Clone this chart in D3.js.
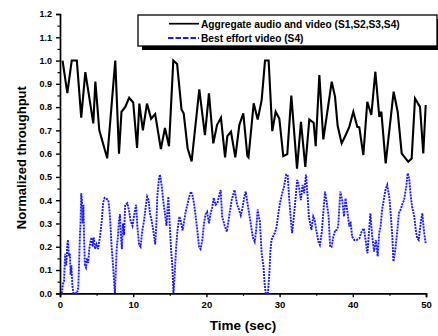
<!DOCTYPE html>
<html>
<head>
<meta charset="utf-8">
<script src="https://cdn.jsdelivr.net/npm/d3@7"></script>
<style>
  html, body { margin: 0; padding: 0; background: #fff; }
  svg { display: block; font-family: "Liberation Sans", Arial, sans-serif; }
</style>
</head>
<body>
<svg id="chart" width="438" height="336"></svg>
<script>
// ---- data ----
const seriesNames = ["Aggregate audio and video (S1,S2,S3,S4)", "Best effort video (S4)"];
const xTickValues = [0, 10, 20, 30, 40, 50];
const yTickValues = [0, 0.1, 0.2, 0.3, 0.4, 0.5, 0.6, 0.7, 0.8, 0.9, 1.0, 1.1, 1.2];

const aggTime = [0.35,1.0,1.6,2.3,2.9,3.46,4.55,4.83,5.37,6.45,7.55,8.06,8.4,8.9,9.45,10.0,10.53,10.84,11.32,11.88,12.45,13.0,13.78,14.34,14.89,15.48,16.0,16.6,16.9,17.44,17.98,19.03,19.8,20.35,20.94,21.45,21.99,22.55,22.86,23.36,23.95,24.5,25.04,25.6,25.75,26.46,27.01,27.55,28.01,28.5,29.0,29.46,29.96,30.5,31.05,31.6,32.38,32.92,33.51,34.06,34.65,34.93,35.43,35.97,37.12,37.57,37.93,38.48,39.03,39.52,40.07,40.61,40.89,41.44,41.98,42.53,43.08,43.62,43.9,44.49,45.58,46.13,46.68,47.23,47.58,48.04,48.5,49.18,49.63,49.96];
const aggValue = [1.0,0.86,1.0,1.0,0.755,0.95,0.73,0.91,0.70,0.58,1.0,0.60,0.78,0.80,0.84,0.82,0.625,0.815,0.70,0.815,0.75,0.77,0.62,0.71,0.632,1.0,0.985,0.79,0.772,0.622,0.567,0.876,0.68,0.859,0.644,0.723,0.754,0.584,0.675,0.694,0.584,0.723,0.773,0.59,0.584,0.816,0.747,0.83,1.0,1.0,0.697,0.78,0.751,0.589,0.598,0.849,0.536,0.737,0.543,0.747,0.733,0.632,0.938,0.661,0.909,0.845,0.72,0.644,0.68,0.715,0.78,0.715,0.713,0.594,0.823,0.766,0.952,0.758,0.78,0.558,0.866,0.78,0.601,0.579,0.565,0.579,0.837,0.801,0.601,0.809];

const beTime = [0.25,0.4,0.55,0.7,0.85,1.0,1.1,1.2,1.35,1.45,1.55,1.7,1.85,2.35,2.5,2.6,2.7,2.8,2.9,3.0,3.1,3.2,3.3,3.4,3.55,3.7,3.85,4.0,4.15,4.3,4.45,4.6,4.8,5.0,5.2,5.45,5.7,5.9,6.1,6.4,6.6,6.75,6.9,7.05,7.2,7.35,7.5,7.6,7.74,7.9,8.05,8.2,8.3,8.45,8.6,8.75,8.9,9.2,9.4,9.65,9.9,10.15,10.4,10.56,10.8,11.0,11.25,11.5,11.7,11.9,12.1,12.3,12.5,12.75,13.0,13.15,13.3,13.5,13.66,13.9,14.1,14.34,14.55,14.8,15.0,15.17,15.35,15.5,15.65,15.85,16.05,16.3,16.5,16.75,16.95,17.17,17.4,17.65,17.9,18.1,18.3,18.5,18.76,19.0,19.2,19.45,19.67,19.9,20.1,20.35,20.55,20.8,21.0,21.25,21.5,21.7,21.95,22.15,22.5,22.8,23.1,23.45,23.85,24.2,24.45,24.7,24.95,25.15,25.37,25.6,25.85,26.1,26.35,26.6,26.8,27.0,27.15,27.3,27.55,27.8,27.95,28.1,28.4,28.6,28.75,28.9,29.1,29.35,29.6,29.8,30.05,30.3,30.6,30.9,31.1,31.3,31.5,31.7,31.95,32.2,32.4,32.65,32.9,33.15,33.35,33.6,33.8,34.0,34.35,34.6,34.8,35.0,35.3,35.5,35.75,36.0,36.2,36.45,36.7,36.9,37.1,37.35,37.6,37.8,38.0,38.3,38.55,38.8,39.0,39.3,39.5,39.7,39.9,40.2,40.5,40.9,41.2,41.5,41.75,42.0,42.2,42.4,42.65,42.9,43.15,43.4,43.6,43.8,44.0,44.3,44.5,44.7,45.0,45.2,45.4,45.55,45.8,46.0,46.3,46.6,46.8,47.0,47.3,47.5,47.7,47.9,48.1,48.4,48.6,48.8,49.0,49.3,49.5,49.7,49.95];
const beValue = [0.0,0.04,0.05,0.17,0.12,0.21,0.23,0.16,0.17,0.08,0.12,0.03,0.0,0.0,0.03,0.12,0.23,0.30,0.43,0.40,0.30,0.38,0.22,0.12,0.11,0.15,0.13,0.19,0.22,0.24,0.20,0.24,0.19,0.21,0.19,0.24,0.31,0.39,0.41,0.405,0.40,0.36,0.29,0.20,0.14,0.07,0.0,0.08,0.19,0.24,0.31,0.34,0.26,0.19,0.30,0.25,0.38,0.387,0.36,0.31,0.29,0.34,0.38,0.29,0.21,0.20,0.27,0.315,0.37,0.415,0.40,0.34,0.315,0.27,0.21,0.29,0.42,0.487,0.51,0.46,0.40,0.34,0.29,0.415,0.29,0.19,0.115,0.0,0.07,0.19,0.27,0.33,0.31,0.27,0.31,0.35,0.38,0.415,0.437,0.42,0.387,0.34,0.27,0.20,0.19,0.23,0.30,0.34,0.35,0.30,0.34,0.37,0.41,0.38,0.387,0.415,0.444,0.33,0.29,0.265,0.33,0.40,0.444,0.38,0.36,0.335,0.37,0.41,0.437,0.39,0.34,0.29,0.24,0.222,0.27,0.36,0.33,0.31,0.17,0.115,0.043,0.0,0.0,0.086,0.186,0.23,0.244,0.26,0.287,0.337,0.387,0.423,0.458,0.51,0.51,0.41,0.33,0.258,0.33,0.415,0.487,0.458,0.40,0.466,0.43,0.51,0.43,0.33,0.272,0.33,0.315,0.272,0.222,0.208,0.258,0.358,0.437,0.387,0.33,0.2,0.2,0.244,0.272,0.272,0.287,0.437,0.40,0.33,0.408,0.344,0.287,0.308,0.244,0.229,0.229,0.236,0.265,0.279,0.229,0.172,0.258,0.344,0.244,0.179,0.229,0.158,0.258,0.287,0.358,0.415,0.45,0.466,0.408,0.33,0.244,0.136,0.186,0.244,0.344,0.365,0.387,0.40,0.458,0.516,0.494,0.423,0.372,0.33,0.272,0.236,0.229,0.308,0.344,0.272,0.215];

// ---- layout ----
const svg = d3.select("#chart");
const x0 = 60, x1 = 426, yTop = 14, yBot = 293.3;
const x = d3.scaleLinear().domain([0, 50]).range([x0, x1]);
const y = d3.scaleLinear().domain([0, 1.2]).range([yBot, yTop]);

// minor ticks
const yMinor = d3.range(0.05, 1.2, 0.1);
const xMinor = [5, 15, 25, 35, 45];

const gx = svg.append("g").attr("transform", `translate(0,${yBot})`);
gx.call(d3.axisBottom(x).tickValues(xTickValues).tickFormat(d3.format("d")).tickSize(4).tickPadding(4))
  .call(g => g.select(".domain").attr("stroke-width", 1.7))
  .call(g => g.selectAll(".tick line").attr("stroke-width", 1.4))
  .call(g => g.selectAll("text").attr("font-size", 9.5).attr("font-weight", "bold").attr("fill", "#000"));
gx.append("g").call(d3.axisBottom(x).tickValues(xMinor).tickFormat("").tickSize(2.5))
  .call(g => g.select(".domain").remove())
  .call(g => g.selectAll(".tick line").attr("stroke-width", 1.2));

const gy = svg.append("g").attr("transform", `translate(${x0},0)`);
gy.call(d3.axisLeft(y).tickValues(yTickValues).tickFormat(d3.format(".1f")).tickSize(4).tickPadding(4))
  .call(g => g.select(".domain").attr("stroke-width", 1.7))
  .call(g => g.selectAll(".tick line").attr("stroke-width", 1.4))
  .call(g => g.selectAll("text").attr("font-size", 9).attr("font-weight", "bold").attr("fill", "#000"));
gy.append("g").call(d3.axisLeft(y).tickValues(yMinor).tickFormat("").tickSize(2.5))
  .call(g => g.select(".domain").remove())
  .call(g => g.selectAll(".tick line").attr("stroke-width", 1.2));

// axis titles
svg.append("text").attr("x", (x0 + x1) / 2).attr("y", 330).attr("text-anchor", "middle")
  .attr("font-size", 13.5).attr("font-weight", "bold").text("Time (sec)");
svg.append("text").attr("transform", `translate(26,${(yTop + yBot) / 2 + 4}) rotate(-90)`)
  .attr("text-anchor", "middle").attr("font-size", 13).attr("font-weight", "bold").text("Normalized throughput");

// lines
const line = d3.line().x(d => x(d[0])).y(d => y(d[1]));
const beData = d3.zip(beTime, beValue);
const aggData = d3.zip(aggTime, aggValue);

svg.append("path").datum(beData).attr("d", line).attr("fill", "none")
  .attr("stroke", "#1a1aff").attr("stroke-width", 1.9).attr("stroke-dasharray", "2,1");
svg.append("path").datum(aggData).attr("d", line).attr("fill", "none")
  .attr("stroke", "#000").attr("stroke-width", 2.1).attr("stroke-linejoin", "miter");

// legend
const lg = svg.append("g");
const lx = 138, ly = 15, lw = 299, lh = 31;
lg.append("rect").attr("x", lx + 4).attr("y", ly + 4).attr("width", lw).attr("height", lh).attr("fill", "#000");
lg.append("rect").attr("x", lx).attr("y", ly).attr("width", lw).attr("height", lh)
  .attr("fill", "#fff").attr("stroke", "#000").attr("stroke-width", 1.3);
lg.append("line").attr("x1", 169).attr("x2", 199).attr("y1", 23.7).attr("y2", 23.7)
  .attr("stroke", "#000").attr("stroke-width", 1.7);
lg.append("line").attr("x1", 168).attr("x2", 199).attr("y1", 38).attr("y2", 38)
  .attr("stroke", "#1a1aff").attr("stroke-width", 1.9).attr("stroke-dasharray", "5.5,2");
lg.append("text").attr("x", 201).attr("y", 27.5).attr("font-size", 10.2).attr("font-weight", "bold").text(seriesNames[0]);
lg.append("text").attr("x", 201).attr("y", 41.8).attr("font-size", 10.2).attr("font-weight", "bold").text(seriesNames[1]);
</script>
</body>
</html>
